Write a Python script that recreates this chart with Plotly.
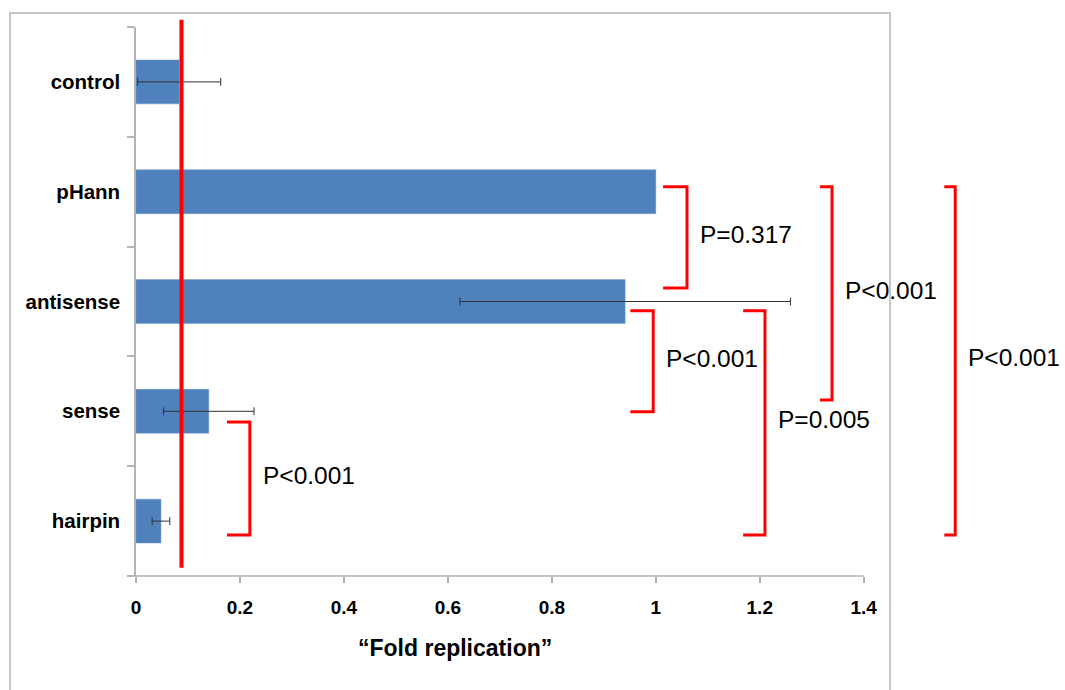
import plotly.graph_objects as go

# ---- data ----
categories = ["control", "pHann", "antisense", "sense", "hairpin"]
fold_values = [0.083, 1.0, 0.941, 0.140, 0.048]
fold_errors = [0.080, None, 0.318, 0.087, 0.017]
x_tick_vals = [0, 0.2, 0.4, 0.6, 0.8, 1.0, 1.2, 1.4]
x_tick_text = ["0", "0.2", "0.4", "0.6", "0.8", "1", "1.2", "1.4"]
threshold = 0.0875

# comparisons: (from category, to category, bracket x, p label)
comp_from = ["pHann", "antisense", "sense", "pHann", "antisense", "pHann"]
comp_to = ["antisense", "sense", "hairpin", "sense", "hairpin", "hairpin"]
comp_x = [1.060, 0.995, 0.219, 1.339, 1.210, 1.576]
comp_label = ["P=0.317", "P<0.001", "P<0.001", "P<0.001", "P=0.005", "P<0.001"]

FONT = "Liberation Sans, Arial, sans-serif"
XMAX_AXIS = 1.4
X_RANGE = [0, 1.7776]
N = len(categories)


def xp(v):
    """data x -> paper x"""
    return (v - X_RANGE[0]) / (X_RANGE[1] - X_RANGE[0])


def yp(i):
    """category position (0 = top) -> paper y"""
    return (N - 0.5 - i) / N


BAR_COLOR = "#4F81BD"
BAR_LINE = dict(color="#6F98CB", width=0.5)

fig = go.Figure()
# bars with error bars
with_err = [i for i, e in enumerate(fold_errors) if e is not None]
no_err = [i for i, e in enumerate(fold_errors) if e is None]
fig.add_trace(go.Bar(
    y=[categories[i] for i in with_err], x=[fold_values[i] for i in with_err],
    orientation="h", marker=dict(color=BAR_COLOR, line=BAR_LINE),
    error_x=dict(type="data", array=[fold_errors[i] for i in with_err], visible=True,
                 color="#333333", thickness=1, width=4),
    showlegend=False,
))
fig.add_trace(go.Bar(
    y=[categories[i] for i in no_err], x=[fold_values[i] for i in no_err],
    orientation="h", marker=dict(color=BAR_COLOR, line=BAR_LINE),
    showlegend=False,
))

idx = {c: i for i, c in enumerate(categories)}

shapes = []
annotations = []

# outer chart-area frame (pixel-based decoration)
shapes.append(dict(type="rect", xref="paper", yref="paper",
                   x0=(10 - 136) / 924, x1=(890 - 136) / 924,
                   y0=(576 - 720) / 549, y1=(576 - 13) / 549,
                   line=dict(color="#B4B4B4", width=1.5), fillcolor="rgba(0,0,0,0)",
                   layer="below"))

# x axis line up to 1.4
shapes.append(dict(type="line", xref="paper", yref="paper",
                   x0=xp(-0.014), x1=xp(XMAX_AXIS), y0=0, y1=0,
                   line=dict(color="#B4B4B4", width=1.5)))

# red threshold line
shapes.append(dict(type="line", xref="paper", yref="paper",
                   x0=xp(threshold), x1=xp(threshold), y0=yp(N - 0.574), y1=yp(-0.565),
                   line=dict(color="#FF0000", width=4)))

# brackets
arms = [0.046, 0.044, 0.044, 0.023, 0.042, 0.021]
tops = [-0.044, 0.085, 0.097, -0.044, 0.085, -0.044]
bots = [-0.124, 0.005, 0.126, -0.104, 0.126, 0.126]
for a, b, xb, lab, arm, dt, db in zip(comp_from, comp_to, comp_x, comp_label, arms, tops, bots):
    top = idx[a] + dt
    bot = idx[b] + db
    x0 = xb - arm
    path = f"M {x0},{top} L {xb},{top} L {xb},{bot} L {x0},{bot}"
    shapes.append(dict(type="path", xref="x", yref="y", path=path,
                       line=dict(color="#FF0000", width=3)))
    annotations.append(dict(x=xb + 0.021, y=(top + bot) / 2 - 0.03, xref="x", yref="y",
                            text=lab, showarrow=False, xanchor="left", yanchor="middle",
                            font=dict(family=FONT, size=24.5, color="black")))

# axis title
annotations.append(dict(x=0.614, y=(576 - 648) / 549, xref="x", yref="paper",
                        text="<b>\u201cFold replication\u201d</b>", showarrow=False,
                        xanchor="center", yanchor="middle",
                        font=dict(family=FONT, size=23, color="black")))

fig.update_layout(
    width=1065, height=690,
    margin=dict(l=136, r=5, t=27, b=114),
    paper_bgcolor="white", plot_bgcolor="white",
    bargap=0.6, barmode="overlay",
    shapes=shapes, annotations=annotations,
    xaxis=dict(range=X_RANGE, tickvals=x_tick_vals, ticktext=[f"<b>{t}</b>" for t in x_tick_text],
               showgrid=False, zeroline=False, showline=False,
               ticks="outside", ticklen=6, tickcolor="#B4B4B4", tickwidth=1.5,
               ticklabelstandoff=8,
               tickfont=dict(family=FONT, size=19, color="black")),
    yaxis=dict(type="category", categoryorder="array", categoryarray=categories,
               range=[N - 0.5, -0.5],
               tickvals=categories, ticktext=[f"<b>{c}</b>" for c in categories],
               showgrid=False, zeroline=False, showline=True, linecolor="#B4B4B4", linewidth=1.5,
               ticks="outside", ticklen=7, tickcolor="#B4B4B4", tickwidth=1.5,
               tickson="boundaries", ticklabelstandoff=10,
               tickfont=dict(family=FONT, size=20.5, color="black")),
)

fig.write_html("out.html", config={"displayModeBar": False},
               post_script="document.body.style.margin='0px';document.body.style.overflow='hidden';")
